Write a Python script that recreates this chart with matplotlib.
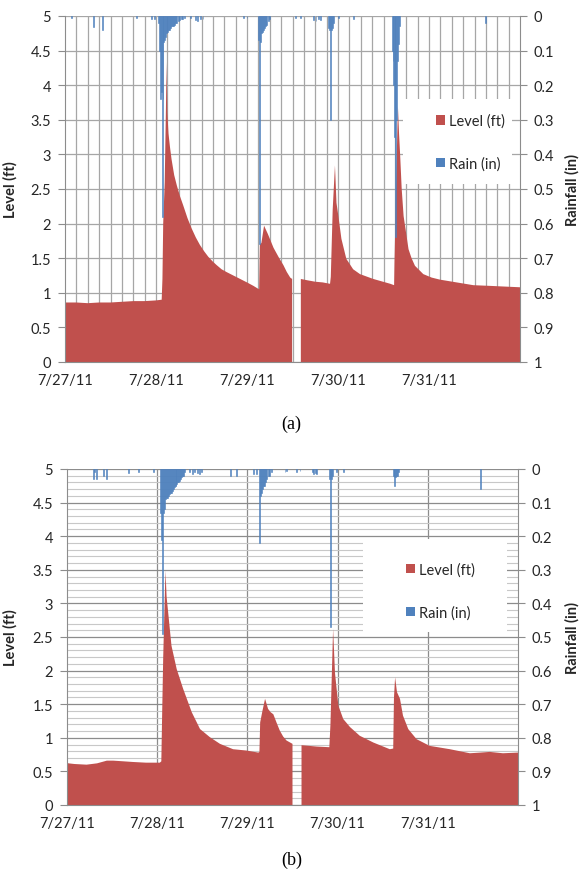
import numpy as np
import matplotlib
matplotlib.use('Agg')
import matplotlib.pyplot as plt
from matplotlib.patches import Patch, Rectangle

plt.rcParams['font.family'] = ['Lato', 'DejaVu Sans']

# hours since 7/27/11 00:00 ; level in ft ; nan = missing record
t_a = [0, 3, 6, 9, 12, 15, 18, 21, 24, 25.5, 25.7, 25.9, 26.3, 26.6, 26.8, 27.0, 27.3, 27.7,
       28.1, 28.8, 29.5, 30.3, 31.2, 32.3, 33.4, 34.5, 35.6, 36.7, 37.8, 39.0, 40.0, 41.3,
       42.6, 44.4, 46.2, 48.0, 49.7, 51.2, 51.4, 51.8, 52.5, 53.5, 55.0, 56.5, 57.6, 58.5,
       59.4, 59.9, 61.0, 62.2, 64, 66, 68, 69.9, 70.1, 70.6, 71.2, 71.6, 72.1, 72.9, 74.2,
       76.0, 77.8, 81.3, 85.8, 86.8, 86.9, 87.3, 87.8, 88.1, 88.4, 88.8, 89.3, 90.0, 90.6,
       91.4, 92.3, 94.5, 96.7, 98.9, 103.3, 107.7, 112.1, 116, 120]
level_a = [0.86, 0.86, 0.85, 0.86, 0.86, 0.87, 0.88, 0.88, 0.89, 0.90, 1.2, 2.0, 2.6, 3.6, 4.33, 3.6, 3.3, 3.1,
           2.93, 2.7, 2.55, 2.4, 2.26, 2.08, 1.93, 1.80, 1.69, 1.60, 1.52, 1.45, 1.40, 1.34,
           1.30, 1.25, 1.20, 1.15, 1.10, 1.05, 1.70, 1.72, 1.97, 1.85, 1.65, 1.50, 1.40, 1.30,
           1.22, 1.20, np.nan, 1.20, 1.18, 1.16, 1.15, 1.13, 1.23, 2.2, 2.84, 2.3, 2.11, 1.78, 1.49,
           1.34, 1.27, 1.20, 1.13, 1.11, 1.44, 2.5, 3.7, 3.3, 2.98, 2.5, 2.11, 1.85, 1.63,
           1.50, 1.39, 1.27, 1.22, 1.19, 1.15, 1.11, 1.10, 1.09, 1.08]

rain_t_a = [1.8, 7.5, 10.0, 18.9, 22.9, 23.5,
            24.6, 24.85, 25.1, 25.35, 25.6, 25.85, 26.1, 26.35, 26.6, 26.85, 27.1, 27.35, 27.6,
            27.85, 28.1, 28.35, 28.6, 28.85, 29.1, 29.5, 29.9, 30.3, 30.7, 31.1, 31.5,
            33.0, 34.3, 35.0, 35.7, 36.4, 47.0, 48.0,
            51.0, 51.3, 51.55, 51.8, 52.05, 52.3, 52.55, 52.8, 53.2, 53.6, 54.0,
            60.7, 62.0, 65.5, 66.2, 66.8, 67.3, 69.5, 69.75, 69.95, 70.2, 70.45, 70.7,
            72.1, 76.0,
            86.25, 86.5, 86.75, 87.0, 87.25, 87.5, 87.75, 88.0, 88.25, 110.8]
rain_a = [0.005, 0.032, 0.04, 0.005, 0.01, 0.008,
          0.02, 0.10, 0.24, 0.22, 0.58, 0.24, 0.075, 0.07, 0.06, 0.05, 0.045, 0.04, 0.04,
          0.035, 0.03, 0.03, 0.03, 0.025, 0.02, 0.02, 0.015, 0.012, 0.01, 0.008, 0.005,
          0.005, 0.012, 0.015, 0.01, 0.008, 0.005, 0.005,
          0.07, 0.66, 0.075, 0.05, 0.045, 0.04, 0.035, 0.03, 0.025, 0.015, 0.01,
          0.005, 0.005, 0.012, 0.015, 0.01, 0.012, 0.035, 0.04, 0.30, 0.04, 0.035, 0.02,
          0.005, 0.008,
          0.10, 0.13, 0.20, 0.35, 0.64, 0.30, 0.13, 0.08, 0.03, 0.02]

t_b = [0, 0.4, 2, 5.2, 8, 10.6, 12.3, 15, 17.6, 21, 24.7, 25.1, 25.3, 25.6, 26.2, 26.5, 27.0,
       27.8, 29.2, 30.9, 33.2, 35.4, 38.0, 40.7, 44.2, 47.8, 50.9, 51.2, 51.4, 52.0, 52.7,
       53.5, 54.2, 54.9, 55.8, 56.6, 57.5, 58.4, 60.0, 61.0, 62.4, 66.4, 69.8, 70.1, 70.8,
       71.3, 72.2, 73.5, 75.3, 77.9, 81.5, 85.9, 86.8, 87.0, 87.3, 87.8, 88.6, 89.4, 90.8,
       93.0, 96.5, 101.9, 107.2, 110, 112.5, 116, 120]
level_b = [0.63, 0.62, 0.61, 0.60, 0.62, 0.66, 0.66, 0.65, 0.64, 0.63, 0.63, 0.65, 1.3, 2.2, 3.49, 3.1, 2.82,
           2.37, 2.02, 1.73, 1.38, 1.13, 1.01, 0.91, 0.83, 0.81, 0.78, 0.79, 1.23, 1.40, 1.58,
           1.43, 1.38, 1.35, 1.22, 1.11, 1.02, 0.96, 0.91, np.nan, 0.89, 0.87, 0.86, 1.2, 2.62,
           1.97, 1.48, 1.28, 1.16, 1.03, 0.93, 0.83, 0.84, 1.6, 1.90, 1.68, 1.58, 1.33, 1.13,
           0.98, 0.88, 0.83, 0.77, 0.78, 0.79, 0.77, 0.78]

rain_t_b = [7.0, 7.4, 7.9, 9.8, 10.4, 16.3, 19.0, 23.1,
            25.0, 25.25, 25.5, 25.75, 26.0, 26.25, 26.5, 26.75, 27.0, 27.25, 27.5, 27.75, 28.0,
            28.25, 28.5, 28.75, 29.0, 29.25, 29.5, 29.75, 30.0, 30.25, 30.5, 30.75, 31.0, 31.25,
            32.7, 33.3, 34.0, 34.6, 35.2, 35.8, 43.4, 45.1, 49.5, 50.5,
            51.3, 51.55, 51.8, 52.05, 52.3, 52.55, 52.8, 53.05, 53.5, 54.0, 54.5,
            58.0, 58.4, 61.0, 62.0, 65.2, 65.6, 66.0, 66.5,
            69.8, 70.1, 70.35, 70.6, 71.7, 73.5,
            86.75, 87.0, 87.25, 87.5, 87.75, 88.0, 88.25, 110.1]
rain_b = [0.03, 0.01, 0.03, 0.02, 0.03, 0.012, 0.008, 0.01,
          0.13, 0.21, 0.49, 0.13, 0.12, 0.09, 0.085, 0.085, 0.08, 0.075, 0.07, 0.07, 0.065,
          0.06, 0.055, 0.05, 0.05, 0.045, 0.04, 0.04, 0.035, 0.03, 0.025, 0.02, 0.02, 0.01,
          0.01, 0.015, 0.01, 0.012, 0.015, 0.01, 0.02, 0.02, 0.015, 0.015,
          0.22, 0.08, 0.07, 0.06, 0.05, 0.05, 0.04, 0.03, 0.02, 0.02, 0.01,
          0.01, 0.005, 0.01, 0.005, 0.01, 0.015, 0.012, 0.015,
          0.03, 0.47, 0.03, 0.02, 0.01, 0.01,
          0.02, 0.025, 0.05, 0.025, 0.02, 0.02, 0.01, 0.06]

day_ticks = [0, 24, 48, 72, 96]
day_labels = ['7/27/11', '7/28/11', '7/29/11', '7/30/11', '7/31/11']
level_ticks = [0, 0.5, 1, 1.5, 2, 2.5, 3, 3.5, 4, 4.5, 5]
rain_ticks = [0, 0.1, 0.2, 0.3, 0.4, 0.5, 0.6, 0.7, 0.8, 0.9, 1]

RED = '#C0504D'
BLUE = '#4F81BD'
TXT = '#262626'
W, H = 583, 879

fig = plt.figure(figsize=(W/100, H/100), dpi=100)


def panel(rect, t, lev, rt, rv, vgrid, minor, box, leg_xy, caption, cap_y):
    l, r, top, bot = rect
    ax = fig.add_axes([l/W, 1-bot/H, (r-l)/W, (bot-top)/H])
    ax.fill_between(t, lev, 0, color=RED, linewidth=0, zorder=2)
    ax.set_xlim(0, 120)
    ax.set_ylim(0, 5)
    ax.set_yticks(level_ticks)
    ax.set_yticklabels([('%g' % v) for v in level_ticks])
    ax.set_xticks(day_ticks)
    ax.set_xticklabels(day_labels)
    ax.set_axisbelow(True)
    if minor:
        ax.set_yticks(np.arange(0, 5.01, 0.1), minor=True)
        ax.grid(True, axis='y', which='minor', color='#C8C8C8', linewidth=0.8)
        ax.grid(True, axis='y', which='major', color='#8C8C8C', linewidth=0.9)
        ax.tick_params(axis='y', which='minor', length=0)
    else:
        ax.grid(True, axis='y', which='major', color='#A6A6A6', linewidth=0.9)
    for v in vgrid:
        ax.axvline(v, color='#A6A6A6' if not minor else '#8C8C8C', linewidth=0.9, zorder=0.5)
    ax.tick_params(axis='y', which='major', length=5, color='#8C8C8C', labelsize=10.5,
                   labelcolor=TXT, pad=5)
    ax.tick_params(axis='x', length=0, labelsize=10.5, labelcolor=TXT, pad=8)
    for s in ['top', 'right']:
        ax.spines[s].set_visible(False)
    for s in ['left', 'bottom']:
        ax.spines[s].set_color('#8C8C8C')
    ax.set_ylabel('Level (ft)', fontsize=10.5, fontweight='bold', color=TXT)
    ax.yaxis.set_label_coords((18-l)/(r-l), 0.5)

    ax2 = ax.twinx()
    ax2.bar(rt, rv, width=0.25, color=BLUE, edgecolor=BLUE, linewidth=0.4, zorder=3)
    ax2.set_ylim(1, 0)
    ax2.set_xlim(0, 120)
    ax2.set_yticks(rain_ticks)
    ax2.set_yticklabels([('%g' % v) for v in rain_ticks])
    ax2.tick_params(axis='y', length=5, color='#8C8C8C', labelsize=10.5, labelcolor=TXT, pad=5)
    for s in ['top', 'left', 'bottom']:
        ax2.spines[s].set_visible(False)
    ax2.spines['right'].set_color('#8C8C8C')
    ax2.set_ylabel('Rainfall (in)', fontsize=10.5, fontweight='bold', color=TXT, rotation=90)
    ax2.yaxis.set_label_coords((565-l)/(r-l), 0.5)

    bx0, by0, bx1, by1 = box
    ax2.add_patch(Rectangle((bx0, by0), bx1-bx0, by1-by0, transform=ax2.transAxes,
                            facecolor='white', edgecolor='none', zorder=4))
    handles = [Patch(facecolor=RED, edgecolor='none'), Patch(facecolor=BLUE, edgecolor='none')]
    leg = ax2.legend(handles, ['Level (ft)', 'Rain (in)'], loc='center left',
                     bbox_to_anchor=leg_xy, frameon=False, fontsize=10.5,
                     handlelength=0.6, handleheight=0.6, handletextpad=0.3,
                     labelspacing=1.95, borderpad=0)
    leg.set_zorder(5)
    for txt in leg.get_texts():
        txt.set_color(TXT)
    fig.text(0.5, cap_y, caption, ha='center', va='center', fontsize=13,
             family='Liberation Serif')


panel((65, 520, 17, 363), t_a, level_a, rain_t_a, rain_a,
      np.arange(3, 120, 3), False, (0.743, 0.514, 0.982, 0.760), (0.80, 0.635),
      '(a)', 1-424/H)
panel((67, 518, 470, 806), t_b, level_b, rain_t_b, rain_b,
      [24, 48, 72, 96], True, (0.656, 0.515, 0.976, 0.792), (0.735, 0.637),
      '(b)', 1-860/H)

fig.savefig('out.png', dpi=100)
